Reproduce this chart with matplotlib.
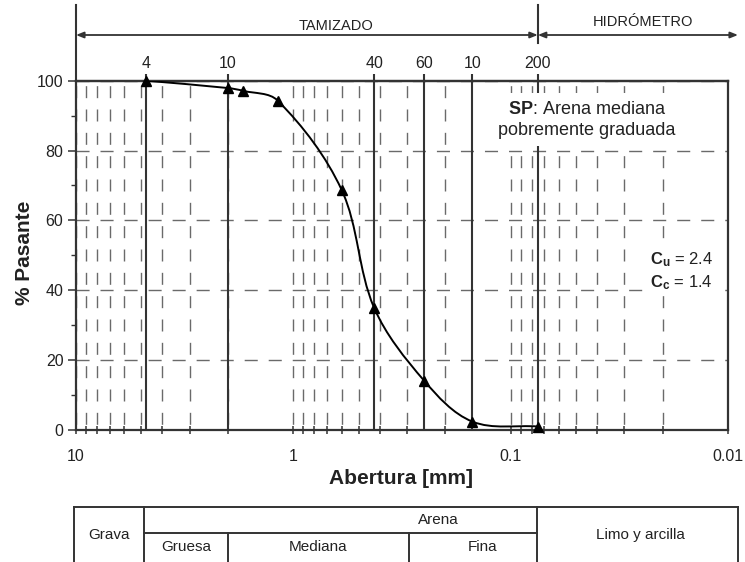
import numpy as np
import matplotlib
matplotlib.use('Agg')
import matplotlib.pyplot as plt
from matplotlib.path import Path
from matplotlib.patches import PathPatch, Rectangle
from matplotlib.lines import Line2D
from matplotlib import transforms
from matplotlib.ticker import LogLocator, NullFormatter, FixedLocator, FixedFormatter, NullLocator

plt.rcParams['font.family'] = ['Liberation Sans', 'DejaVu Sans']
plt.rcParams['mathtext.fontset'] = 'custom'
plt.rcParams['mathtext.rm'] = 'Liberation Sans'
plt.rcParams['mathtext.bf'] = 'Liberation Sans:bold'
plt.rcParams['mathtext.it'] = 'Liberation Sans:italic'
plt.rcParams['lines.scale_dashes'] = False

# ---------------- data ----------------
abertura_mm = [4.75, 2.0, 1.70, 1.18, 0.60, 0.425, 0.25, 0.15, 0.075]
pasante = [100.0, 97.9, 97.1, 94.3, 68.8, 35.0, 14.1, 2.4, 1.0]
sieve_mm = [4.75, 2.0, 0.425, 0.25, 0.15, 0.075]
sieve_labels = ['4', '10', '40', '60', '10', '200']
x_ticks = [10, 1, 0.1, 0.01]
x_ticklabels = ['10', '1', '0.1', '0.01']
y_ticks = [0, 20, 40, 60, 80, 100]

W, H = 745, 562
fig = plt.figure(figsize=(W / 100, H / 100), dpi=100)
ax_l, ax_r, ax_t, ax_b = 76, 728, 80.7, 430
ax = fig.add_axes([ax_l / W, 1 - ax_b / H, (ax_r - ax_l) / W, (ax_b - ax_t) / H])

def axc(px, py):
    """pixel (from top-left) -> axes coords"""
    return (px - ax_l) / (ax_r - ax_l), (ax_b - py) / (ax_b - ax_t)

def fgc(px, py):
    return px / W, 1 - py / H

dark = '#333333'
txtc = '#222222'
gridc = '#6a6a6a'

ax.set_xscale('log')
ax.set_xlim(10, 0.01)
ax.set_ylim(0, 100)

# ticks
ax.xaxis.set_major_locator(FixedLocator(x_ticks))
ax.xaxis.set_major_formatter(FixedFormatter(x_ticklabels))
ax.xaxis.set_minor_locator(LogLocator(base=10, subs=np.arange(2, 10), numticks=20))
ax.xaxis.set_minor_formatter(NullFormatter())
ax.yaxis.set_major_locator(FixedLocator(y_ticks))
ax.yaxis.set_minor_locator(FixedLocator([10, 30, 50, 70, 90]))
ax.tick_params(axis='x', which='both', direction='inout', length=6, width=1.1,
               color=dark, labelsize=11.5, labelcolor=txtc, pad=11)
ax.tick_params(axis='y', which='major', direction='out', length=6, width=1.1,
               color=dark, labelsize=11.5, labelcolor=txtc, pad=3)
ax.tick_params(axis='y', which='minor', direction='out', length=3.5, width=1.0, color=dark)
for s in ax.spines.values():
    s.set_linewidth(1.6)
    s.set_color(dark)

# grids
per = 70 / 3 * 0.72
dash = 12 * 0.72
ax.grid(True, which='both', axis='x', color=gridc, lw=1.0,
        linestyle=(per - 5.67 * 0.72, (dash, per - dash)))
ax.grid(True, which='major', axis='y', color=gridc, lw=1.0,
        linestyle=(0, (9.4, 7.9)))
ax.set_axisbelow(True)

# sieve lines
for d in sieve_mm:
    ax.axvline(d, color=dark, lw=1.5, zorder=2)

# smoothed curve: bezier in (log-x, y) space, tangents scaled to segment length
sx, sy = 217.3, 3.5
P = np.column_stack([np.log10(abertura_mm) * sx, np.array(pasante) * sy])
n = len(P)
T = []
for i in range(n):
    v = P[min(i + 1, n - 1)] - P[max(i - 1, 0)]
    T.append(v / np.hypot(*v))
verts = [P[0]]
codes = [Path.MOVETO]
for i in range(n - 1):
    L = np.hypot(*(P[i + 1] - P[i])) / 3
    verts += [P[i] + T[i] * L, P[i + 1] - T[i + 1] * L, P[i + 1]]
    codes += [Path.CURVE4] * 3
verts = np.array(verts)
verts[:, 0] = 10 ** (verts[:, 0] / sx)
verts[:, 1] = verts[:, 1] / sy
ax.add_patch(PathPatch(Path(verts, codes), fill=False, edgecolor='black',
                       lw=1.4, transform=ax.transData, zorder=4))
ax.plot(abertura_mm, pasante, linestyle='none', marker='^', color='black',
        markersize=7.5, zorder=5, clip_on=False)

# top sieve axis
secax = ax.secondary_xaxis('top')
secax.xaxis.set_major_locator(FixedLocator(sieve_mm))
secax.xaxis.set_major_formatter(FixedFormatter(sieve_labels))
secax.xaxis.set_minor_locator(NullLocator())
secax.tick_params(axis='x', which='major', direction='out', length=5, width=1.5,
                  color=dark, labelsize=11.5, labelcolor=txtc, pad=2)
secax.spines['top'].set_linewidth(1.6)
secax.spines['top'].set_color(dark)

# header
blend = transforms.blended_transform_factory(ax.transData, ax.transAxes)
_, y_top = axc(0, 5)
_, y_arrow = axc(0, 35)
_, y200b = axc(0, 43)
ax.plot([0, 0], [1, y_top], transform=ax.transAxes, color=dark, lw=1.5, clip_on=False)
ax.plot([0.075, 0.075], [y200b, y_top], transform=blend, color=dark, lw=1.5, clip_on=False)
x_right, _ = axc(738, 0)
apr = dict(arrowstyle='<|-|>,head_length=0.45,head_width=0.18', color=dark, lw=1.3,
           shrinkA=0, shrinkB=0)
ax.annotate('', xy=(0, y_arrow), xycoords=ax.transAxes,
            xytext=(0.075, y_arrow), textcoords=blend, arrowprops=apr, annotation_clip=False)
ax.annotate('', xy=(0.075, y_arrow), xycoords=blend,
            xytext=(x_right, y_arrow), textcoords=ax.transAxes, arrowprops=apr, annotation_clip=False)
ax.text(*axc(336, 26), 'TAMIZADO', transform=ax.transAxes, ha='center', va='center',
        fontsize=10.5, color=txtc)
ax.text(*axc(643, 22), 'HIDRÓMETRO', transform=ax.transAxes, ha='center', va='center',
        fontsize=10.5, color=txtc)

# annotations inside (white boxes hide grid)
x0, y0 = axc(495, 146)
x1, y1 = axc(680, 93)
ax.add_patch(Rectangle((x0, y0), x1 - x0, y1 - y0, transform=ax.transAxes,
                       fc='white', ec='none', zorder=5.5))
ax.text(*axc(587, 120), '$\\mathbf{SP}$: Arena mediana\npobremente graduada',
        transform=ax.transAxes, ha='center', va='center', multialignment='center',
        fontsize=13, color=txtc, zorder=6, linespacing=1.25)
ax.text(*axc(713, 271), '$\\mathbf{C}_{\\mathbf{u}}$ = 2.4\n$\\mathbf{C}_{\\mathbf{c}}$ = 1.4',
        transform=ax.transAxes, ha='right', va='center', multialignment='right',
        fontsize=12, color=txtc, zorder=6, linespacing=1.3,
        bbox=dict(fc='white', ec='none', pad=2))

# axis labels
fig.text(*fgc(25, 253), '% Pasante', rotation=90, ha='center', va='center',
         fontsize=15, fontweight='bold', color=txtc)
fig.text(*fgc(401, 478), 'Abertura [mm]', ha='center', va='center',
         fontsize=15, fontweight='bold', color=txtc)

# classification table
def fline(xa, ya, xb, yb):
    a = fgc(xa, ya)
    b = fgc(xb, yb)
    fig.add_artist(Line2D([a[0], b[0]], [a[1], b[1]], color=dark, lw=1.4,
                          transform=fig.transFigure))

tb_top, tb_mid, tb_bot = 507, 533, 565
fline(74, tb_top, 738, tb_top)
fline(144, tb_mid, 537, tb_mid)
fline(74, tb_top, 74, tb_bot)
fline(738, tb_top, 738, tb_bot)
fline(144, tb_top, 144, tb_bot)
fline(537, tb_top, 537, tb_bot)
fline(228, tb_mid, 228, tb_bot)
fline(409, tb_mid, 409, tb_bot)
for (px, py, s) in [(109, 535, 'Grava'), (438, 520, 'Arena'), (186, 547, 'Gruesa'),
                    (318, 547, 'Mediana'), (483, 547, 'Fina'), (640, 535, 'Limo y arcilla')]:
    fig.text(*fgc(px, py), s, ha='center', va='center', fontsize=11, color=txtc)

fig.savefig('out.png', dpi=100)
